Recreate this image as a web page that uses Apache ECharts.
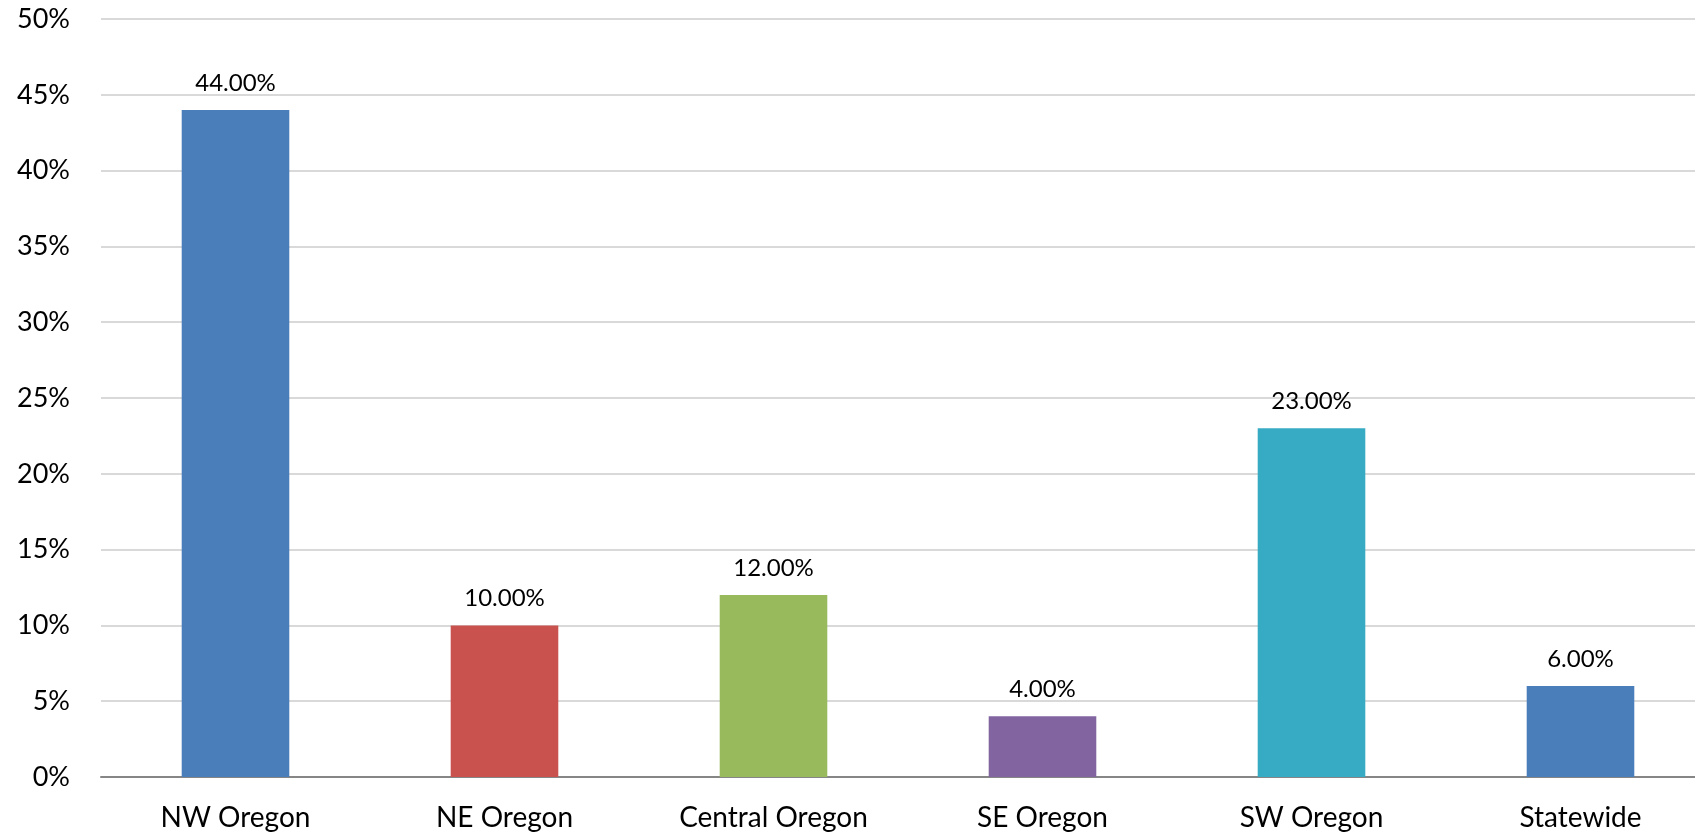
<!DOCTYPE html>
<html>
<head>
<meta charset="utf-8">
<script src="https://cdn.jsdelivr.net/npm/echarts@6/dist/echarts.min.js"></script>
<style>
html,body{margin:0;padding:0;background:#fff;overflow:hidden;width:1695px;height:836px;}
#chart{width:1715px;height:836px;}
</style>
</head>
<body>
<div id="chart"></div>
<script>
const categories = ['NW Oregon', 'NE Oregon', 'Central Oregon', 'SE Oregon', 'SW Oregon', 'Statewide'];
const values = [44, 10, 12, 4, 23, 6];
const barColors = ['#4a7ebb', '#c9524f', '#98b95c', '#8264a0', '#38abc4', '#4a7ebb'];
const yTicks = { min: 0, max: 50, interval: 5 };

const chart = echarts.init(document.getElementById('chart'));
chart.setOption({
  animation: false,
  grid: { left: 101, right: 0, top: 19, bottom: 59, containLabel: false },
  xAxis: {
    type: 'category',
    data: categories,
    axisLine: { lineStyle: { color: '#868686', width: 2 } },
    axisTick: { show: false },
    axisLabel: { color: '#000', fontFamily: 'Lato', fontSize: 28, margin: 27 }
  },
  yAxis: {
    type: 'value',
    min: yTicks.min, max: yTicks.max, interval: yTicks.interval,
    axisLine: { show: false },
    axisTick: { show: false },
    splitLine: { lineStyle: { color: '#d9d9d9', width: 2 } },
    axisLabel: { color: '#000', fontFamily: 'Lato', fontSize: 27, margin: 31, formatter: '{value}%' }
  },
  series: [{
    type: 'bar',
    barCategoryGap: '60%',
    data: values.map((v, i) => ({ value: v, itemStyle: { color: barColors[i] } })),
    label: {
      show: true, position: 'top', distance: 15,
      color: '#000', fontFamily: 'Lato', fontSize: 24,
      formatter: p => p.value.toFixed(2) + '%'
    }
  }]
});
</script>
</body>
</html>
